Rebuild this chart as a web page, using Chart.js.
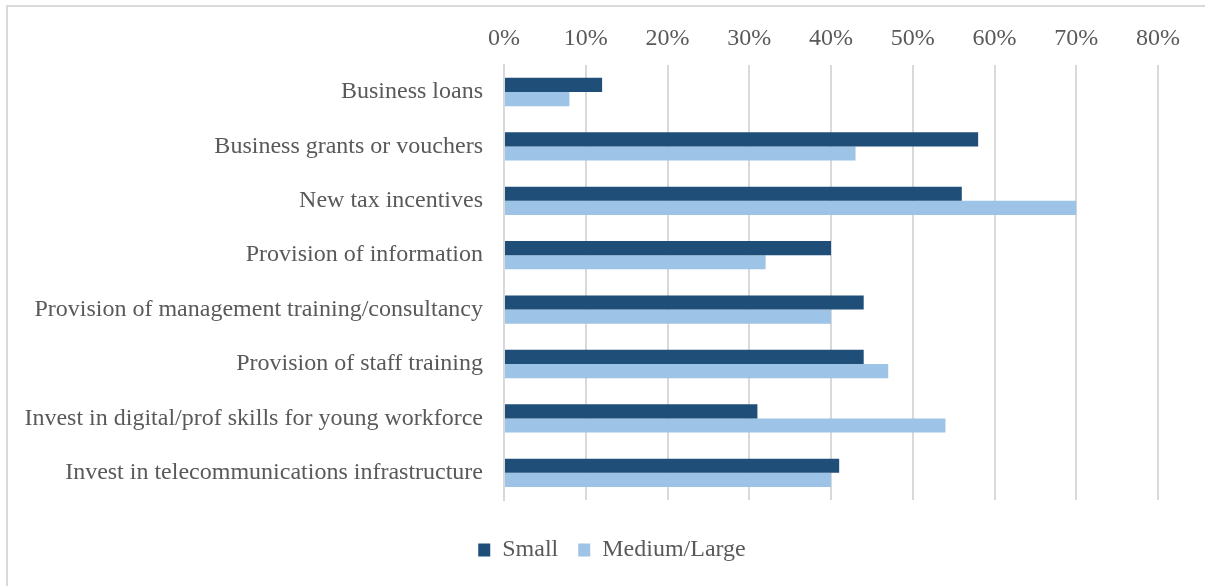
<!DOCTYPE html>
<html>
<head>
<meta charset="utf-8">
<script src="https://cdn.jsdelivr.net/npm/chart.js@4/dist/chart.umd.min.js"></script>
<style>
  html, body { margin: 0; padding: 0; background: #fff; overflow: hidden; }
  #frame {
    position: absolute; left: 6px; top: 5px; width: 1260px; height: 640px;
    border-left: 2px solid #d9d9d9; border-top: 2px solid #d9d9d9;
  }
  #wrap { position: absolute; left: 0; top: 0; width: 1205px; height: 586px; }
</style>
</head>
<body>
<div id="frame"></div>
<div id="wrap"><canvas id="supportChart"></canvas></div>
<script>
// Support measures by business size (% of firms)
const categories = [
  'Business loans',
  'Business grants or vouchers',
  'New tax incentives',
  'Provision of information',
  'Provision of management training/consultancy',
  'Provision of staff training',
  'Invest in digital/prof skills for young workforce',
  'Invest in telecommunications infrastructure'
];
const smallValues = [12, 58, 56, 40, 44, 44, 31, 41];
const mediumLargeValues = [8, 43, 70, 32, 40, 47, 54, 40];
const seriesNames = ['Small', 'Medium/Large'];
const xTicks = [0, 10, 20, 30, 40, 50, 60, 70, 80];

const FONT = '"Liberation Serif", "Times New Roman", serif';
const TEXT = '#595959';

// legend sits centred on the whole frame, a little below the plot
const legendPlacement = {
  id: 'legendPlacement',
  afterLayout(chart) {
    const lg = chart.legend;
    const h = lg.bottom - lg.top;
    lg.left = 66;
    lg.top = 518;
    lg.bottom = lg.top + h;
  }
};

new Chart(document.getElementById('supportChart'), {
  type: 'bar',
  data: {
    labels: categories,
    datasets: [
      { label: seriesNames[0], data: smallValues, backgroundColor: '#1f4e79' },
      { label: seriesNames[1], data: mediumLargeValues, backgroundColor: '#9dc3e6' }
    ]
  },
  plugins: [legendPlacement],
  options: {
    indexAxis: 'y',
    responsive: true,
    maintainAspectRatio: false,
    animation: false,
    layout: { padding: { top: 12, right: 47, bottom: 32, left: 0 } },
    datasets: { bar: { barPercentage: 1, categoryPercentage: 0.52 } },
    scales: {
      x: {
        position: 'top',
        min: 0,
        max: 80,
        afterBuildTicks: s => { s.ticks = xTicks.map(v => ({ value: v })); },
        ticks: {
          color: TEXT,
          font: { family: FONT, size: 24 },
          padding: 12,
          callback: v => v + '%'
        },
        grid: { color: '#d9d9d9', lineWidth: 2, drawTicks: false },
        border: { display: false }
      },
      y: {
        afterFit: s => { s.width = 504; },
        ticks: {
          color: TEXT,
          font: { family: FONT, size: 24 },
          padding: 21
        },
        grid: { display: false, drawTicks: false },
        border: { color: '#d9d9d9', width: 2 }
      }
    },
    plugins: {
      legend: {
        position: 'bottom',
        labels: {
          color: TEXT,
          font: { family: FONT, size: 24 },
          boxWidth: 12,
          boxHeight: 13,
          padding: 20
        }
      },
      tooltip: { enabled: false }
    }
  }
});
</script>
</body>
</html>
